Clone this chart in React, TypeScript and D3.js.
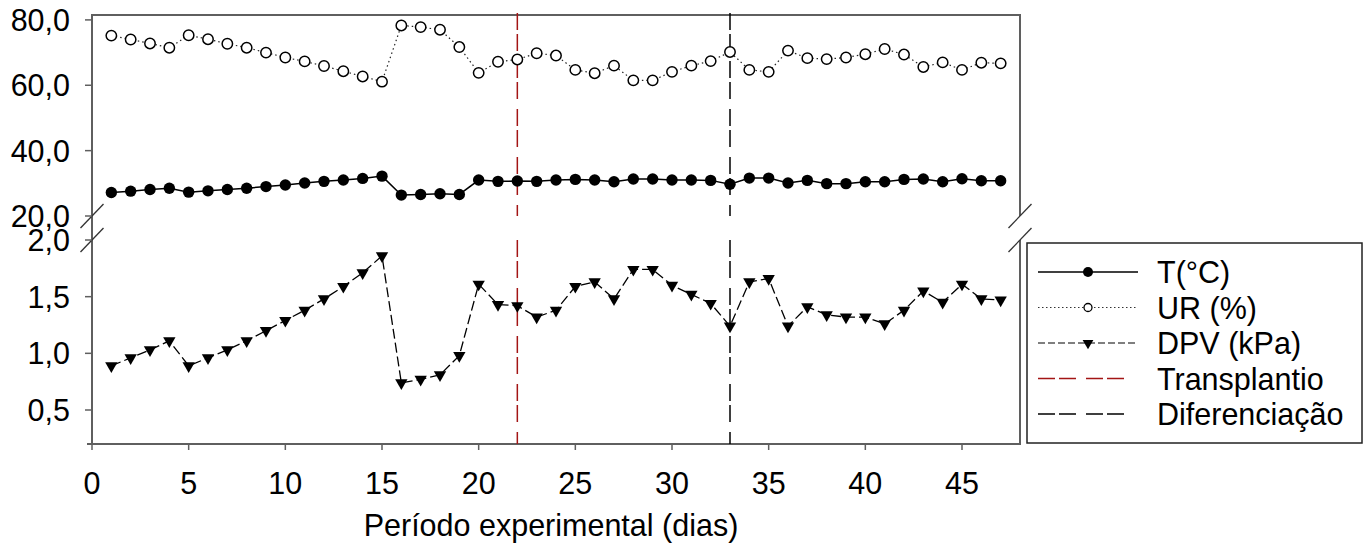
import React from 'react';
import * as d3 from 'd3';

// ---- data ----
const days = [1,2,3,4,5,6,7,8,9,10,11,12,13,14,15,16,17,18,19,20,21,22,23,24,25,26,27,28,29,30,31,32,33,34,35,36,37,38,39,40,41,42,43,44,45,46,47];
const tempC = [27.2,27.6,28.1,28.5,27.3,27.7,28.1,28.5,29.0,29.5,30.1,30.6,31.0,31.5,32.2,26.4,26.6,26.8,26.6,31.0,30.6,30.7,30.6,31.0,31.2,31.0,30.5,31.3,31.3,31.0,31.0,30.9,29.7,31.6,31.6,30.1,30.9,29.9,29.9,30.5,30.5,31.2,31.3,30.5,31.4,30.8,30.8];
const urPct = [75.2,74.0,72.8,71.5,75.3,74.1,72.7,71.5,70.0,68.5,67.3,65.9,64.3,62.7,61.1,78.3,77.8,77.0,71.7,63.8,67.2,67.9,69.8,69.1,64.7,63.7,66.0,61.5,61.5,64.1,66.0,67.4,70.2,64.7,64.1,70.6,68.3,68.0,68.5,69.5,71.1,69.4,65.6,67.0,64.7,66.9,66.7];
const dpvKPa = [0.89,0.96,1.03,1.11,0.89,0.96,1.03,1.11,1.20,1.29,1.38,1.48,1.59,1.71,1.86,0.74,0.77,0.81,0.98,1.61,1.43,1.42,1.32,1.38,1.59,1.63,1.48,1.74,1.74,1.60,1.52,1.44,1.24,1.63,1.66,1.24,1.41,1.34,1.32,1.32,1.26,1.38,1.55,1.45,1.61,1.48,1.47];
const xTicks = [0,5,10,15,20,25,30,35,40,45];
const topTicks = [20,40,60,80];
const bottomTicks = [0.5,1.0,1.5,2.0];
const eventDays = [22,33];
const eventLabels = ['Transplantio','Diferenciação'];
const eventColors = ['#a31515','#000000'];
const seriesLabels = ['T(°C)','UR (%)','DPV (kPa)'];
const xTitle = 'Período experimental (dias)';

const FONT = '"Liberation Sans", Arial, Helvetica, sans-serif';
const FS = 30.5;
const fmt = (v: number) => d3.format('.1f')(v).replace('.', ',');

export default function App() {
  const x = d3.scaleLinear().domain([0, 48]).range([92, 1020]);
  const yTop = d3.scaleLinear().domain([20, 81.5]).range([216, 15]);
  const yBot = d3.scaleLinear().domain([0.2, 2.0]).range([444, 240]);
  const left = x(0), right = x(48);
  const topY = yTop(81.5), topBottom = yTop(20);
  const botTop = yBot(2.0), botBottom = yBot(0.2);

  const lineT = d3.line<number>().x((_, i) => x(days[i])).y((d) => yTop(d))(tempC) || '';
  const lineUR = d3.line<number>().x((_, i) => x(days[i])).y((d) => yTop(d))(urPct) || '';
  const lineDPV = d3.line<number>().x((_, i) => x(days[i])).y((d) => yBot(d))(dpvKPa) || '';
  const tri = d3.symbol().type(d3.symbolTriangle).size(66)() || '';
  const triSmall = d3.symbol().type(d3.symbolTriangle).size(50)() || '';

  const axisColor = '#5f5f5f';
  const brk = (cx: number, cy: number, key: string) => (
    <line key={key} x1={cx - 11.5} y1={cy + 12} x2={cx + 11.5} y2={cy - 12} stroke="#333" strokeWidth={1.3} />
  );

  const legX1 = 1038, legX2 = 1138, legMid = 1088, legText = 1157;
  const legRows = [272, 307.5, 343, 378.5, 414];
  const dashEvt = '17 4 17 10';

  return (
    <svg width={1368} height={549} style={{ position: 'absolute', left: 0, top: 0, background: '#fff' }} fontFamily={FONT}>
      <rect x={0} y={0} width={1368} height={549} fill="#fff" />
      {/* frame */}
      <line x1={left} y1={topY} x2={right} y2={topY} stroke={axisColor} strokeWidth={2} />
      <line x1={left} y1={topY - 1} x2={left} y2={botBottom} stroke={axisColor} strokeWidth={2} />
      <line x1={right} y1={topY - 1} x2={right} y2={topBottom} stroke={axisColor} strokeWidth={2} />
      <line x1={right} y1={botTop} x2={right} y2={botBottom + 1} stroke={axisColor} strokeWidth={2} />
      <line x1={left - 5} y1={botBottom} x2={right + 1} y2={botBottom} stroke={axisColor} strokeWidth={2} />
      {brk(left, topBottom, 'b1')}
      {brk(left, botTop, 'b2')}
      {brk(right, topBottom, 'b3')}
      {brk(right, botTop, 'b4')}

      {/* y ticks top */}
      {topTicks.map((t) => (
        <g key={'tt' + t}>
          <line x1={left - 7} x2={left} y1={yTop(t)} y2={yTop(t)} stroke={axisColor} strokeWidth={1.5} />
          <text x={70} y={yTop(t)} textAnchor="end" dominantBaseline="central" fontSize={FS} fill="#000">{fmt(t)}</text>
        </g>
      ))}
      {/* y ticks bottom */}
      {bottomTicks.map((t) => (
        <g key={'bt' + t}>
          <line x1={left - 7} x2={left} y1={yBot(t)} y2={yBot(t)} stroke={axisColor} strokeWidth={1.5} />
          <text x={70} y={yBot(t)} textAnchor="end" dominantBaseline="central" fontSize={FS} fill="#000">{fmt(t)}</text>
        </g>
      ))}
      {/* x ticks */}
      {xTicks.map((t) => (
        <g key={'xt' + t}>
          <line x1={x(t)} x2={x(t)} y1={botBottom} y2={botBottom + 6} stroke={axisColor} strokeWidth={1.5} />
          <text x={x(t)} y={483} textAnchor="middle" dominantBaseline="central" fontSize={FS} fill="#000">{t}</text>
        </g>
      ))}
      <text x={551} y={525} textAnchor="middle" dominantBaseline="central" fontSize={FS} fill="#000">{xTitle}</text>

      {/* event lines */}
      {eventDays.map((d, i) => (
        <g key={'ev' + d}>
          <line x1={x(d)} x2={x(d)} y1={13} y2={topBottom} stroke={eventColors[i]} strokeWidth={1.5} strokeDasharray={dashEvt} />
          <line x1={x(d)} x2={x(d)} y1={botTop} y2={botBottom} stroke={eventColors[i]} strokeWidth={1.5} strokeDasharray={dashEvt} />
        </g>
      ))}

      {/* series */}
      <path d={lineUR} fill="none" stroke="#222" strokeWidth={1.2} strokeDasharray="1.5 3" />
      <path d={lineT} fill="none" stroke="#000" strokeWidth={1.5} />
      <path d={lineDPV} fill="none" stroke="#000" strokeWidth={1.3} strokeDasharray="10 4" />
      {urPct.map((v, i) => (
        <circle key={'ur' + i} cx={x(days[i])} cy={yTop(v)} r={5.2} fill="#fff" stroke="#000" strokeWidth={1.5} />
      ))}
      {tempC.map((v, i) => (
        <circle key={'t' + i} cx={x(days[i])} cy={yTop(v)} r={5.7} fill="#000" />
      ))}
      {dpvKPa.map((v, i) => (
        <path key={'d' + i} d={tri} transform={`translate(${x(days[i])},${yBot(v)}) rotate(180)`} fill="#000" />
      ))}

      {/* legend */}
      <rect x={1027} y={243} width={335} height={200} fill="#fff" stroke="#222" strokeWidth={1.5} />
      <line x1={legX1} x2={legX2} y1={legRows[0]} y2={legRows[0]} stroke="#000" strokeWidth={1.5} />
      <circle cx={legMid} cy={legRows[0]} r={5} fill="#000" />
      <line x1={legX1} x2={legX2} y1={legRows[1]} y2={legRows[1]} stroke="#333" strokeWidth={1} strokeDasharray="1.5 2.5" />
      <circle cx={legMid} cy={legRows[1]} r={4} fill="#fff" stroke="#000" strokeWidth={1.3} />
      <line x1={legX1} x2={legX2} y1={legRows[2]} y2={legRows[2]} stroke="#000" strokeWidth={1.2} strokeDasharray="7 3" />
      <path d={triSmall} transform={`translate(${legMid},${legRows[2]}) rotate(180)`} fill="#000" />
      {eventLabels.map((l, i) => (
        <line key={'el' + i} x1={legX1} x2={legX1 + 90} y1={legRows[3 + i]} y2={legRows[3 + i]} stroke={eventColors[i]} strokeWidth={1.5} strokeDasharray={dashEvt} />
      ))}
      {[...seriesLabels, ...eventLabels].map((l, i) => (
        <text key={'lt' + i} x={legText} y={legRows[i]} dominantBaseline="central" fontSize={FS} fill="#000">{l}</text>
      ))}
    </svg>
  );
}
